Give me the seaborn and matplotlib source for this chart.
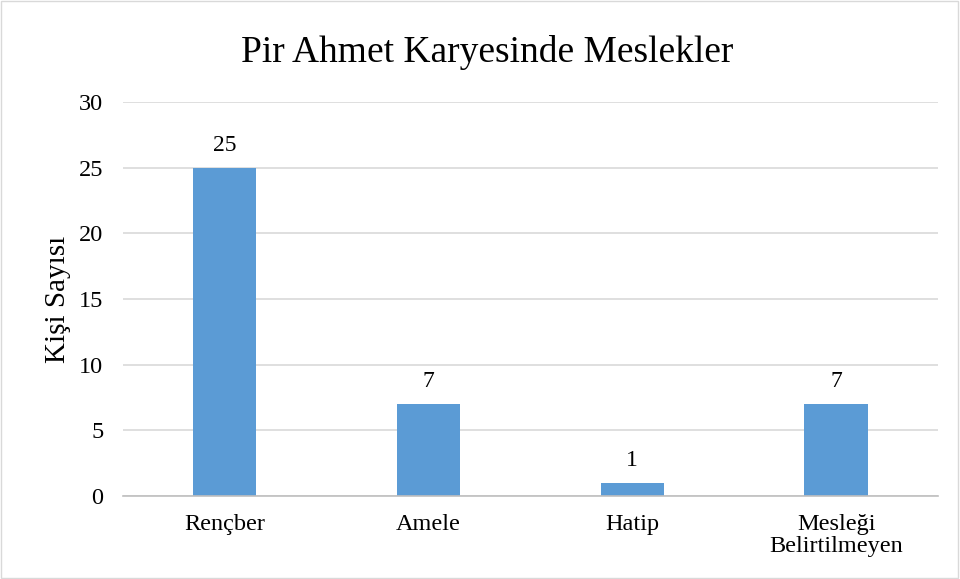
import matplotlib
matplotlib.use("Agg")
import matplotlib.pyplot as plt
import seaborn as sns
import pandas as pd

categories = ["Rençber", "Amele", "Hatip", "Mesleği\nBelirtilmeyen"]
counts = [25, 7, 1, 7]
yticks = [0, 5, 10, 15, 20, 25, 30]

df = pd.DataFrame({"Meslek": categories, "Kişi": counts})

sns.set_theme(style="white")
plt.rcParams["font.family"] = ["Liberation Serif", "DejaVu Serif"]

fig = plt.figure(figsize=(9.6, 5.79), dpi=100)
ax = fig.add_axes([0.128, 0.1434, 0.849, 0.6804])

sns.barplot(data=df, x="Meslek", y="Kişi", color="#5b9bd5", width=0.31,
            saturation=1, linewidth=0, ax=ax)

for i, v in enumerate(counts):
    ax.text(i, v + 0.9, str(v), ha="center", va="bottom", fontsize=17, color="black")

ax.set_ylim(0, 30)
ax.set_xlim(-0.5, 3.5)
ax.set_yticks(yticks)
ax.yaxis.grid(True, color="#d9d9d9", linewidth=1.2)
ax.set_axisbelow(True)
for s in ["top", "right", "left"]:
    ax.spines[s].set_visible(False)
ax.spines["bottom"].set_color("#bfbfbf")
ax.spines["bottom"].set_linewidth(1.2)
ax.tick_params(axis="both", length=0, labelsize=17.5, colors="black")
ax.tick_params(axis="y", pad=14)
ax.tick_params(axis="x", pad=13)
for t in ax.get_xticklabels():
    t.set_linespacing(1.05)
ax.set_xlabel("")
ax.set_ylabel("Kişi Sayısı", fontsize=21, labelpad=6, color="black")
fig.text(0.508, 0.91, "Pir Ahmet Karyesinde Meslekler", fontsize=27,
         ha="center", va="center", color="black")

fig.patches.append(plt.Rectangle((0.001, 0.002), 0.997, 0.996, transform=fig.transFigure,
                                 fill=False, edgecolor="#d9d9d9", linewidth=1))

fig.savefig("out.png", dpi=100)
